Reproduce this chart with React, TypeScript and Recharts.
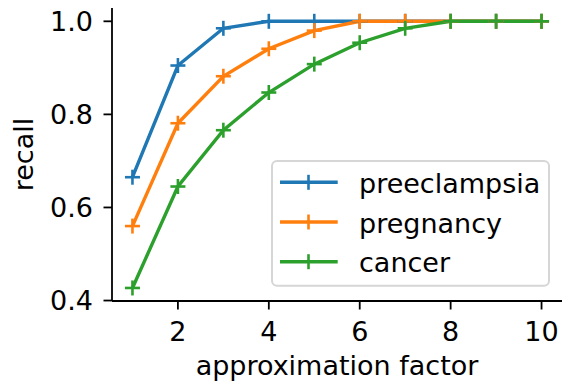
import { Legend, Line, LineChart, XAxis, YAxis } from 'recharts'

const FACTORS = [1, 2, 3, 4, 5, 6, 7, 8, 9, 10]
const PREECLAMPSIA = [0.665, 0.905, 0.985, 1, 1, 1, 1, 1, 1, 1]
const PREGNANCY = [0.56, 0.781, 0.882, 0.941, 0.98, 1, 1, 1, 1, 1]
const CANCER = [0.427, 0.645, 0.766, 0.847, 0.908, 0.954, 0.985, 1, 1, 1]
const X_TICKS = [2, 4, 6, 8, 10]
const Y_TICKS = [0.4, 0.6, 0.8, 1.0]

const SERIES = [
  { key: 'preeclampsia', color: '#1f77b4' },
  { key: 'pregnancy', color: '#ff7f0e' },
  { key: 'cancer', color: '#2ca02c' },
] as const

const FONT = '"DejaVu Sans", sans-serif'
const FS = 27

const rows = FACTORS.map((x, i) => ({
  x,
  preeclampsia: PREECLAMPSIA[i],
  pregnancy: PREGNANCY[i],
  cancer: CANCER[i],
}))

function PlusDot(props: any) {
  const { cx, cy, stroke, index } = props
  if (cx == null || cy == null) return null
  const r = 7.5
  return (
    <g key={index}>
      <line x1={cx - r} x2={cx + r} y1={cy} y2={cy} stroke={stroke} strokeWidth={2.6} />
      <line x1={cx} x2={cx} y1={cy - r} y2={cy + r} stroke={stroke} strokeWidth={2.6} />
    </g>
  )
}

function LegendBox() {
  return (
    <svg width={280} height={128} style={{ display: 'block' }}>
      <rect
        x={1}
        y={1}
        width={277}
        height={124.7}
        rx={5}
        fill="rgba(255,255,255,0.8)"
        stroke="#d6d6d6"
        strokeWidth={2}
      />
      {SERIES.map((s, i) => {
        const y = 22.3 + i * 39.7
        return (
          <g key={s.key}>
            <line x1={9} x2={66.7} y1={y} y2={y} stroke={s.color} strokeWidth={3.4} />
            <line x1={37.5} x2={37.5} y1={y - 7.5} y2={y + 7.5} stroke={s.color} strokeWidth={2.6} />
            <text x={88} y={y + 10.5} fontSize={FS} fontFamily={FONT} fill="#000">
              {s.key}
            </text>
          </g>
        )
      })}
    </svg>
  )
}

export default function App() {
  return (
    <div style={{ position: 'absolute', left: 0, top: 0, background: '#fff' }}>
      <LineChart width={568} height={387} data={rows} margin={{ top: 8, right: 6, bottom: 0, left: 0 }}>
        <XAxis
          dataKey="x"
          type="number"
          domain={[0.55, 10.45]}
          ticks={X_TICKS}
          allowDataOverflow
          height={86}
          axisLine={{ stroke: '#000', strokeWidth: 1.8 }}
          tickLine={{ stroke: '#000', strokeWidth: 1.8 }}
          tickSize={8.5}
          tickMargin={12}
          tick={{ fontSize: FS, fontFamily: FONT, fill: '#000' }}
          label={(p: any) => {
            const vb = p.viewBox
            return (
              <text
                x={vb.x + vb.width / 2}
                y={374.5}
                textAnchor="middle"
                fontSize={FS}
                fontFamily={FONT}
                fill="#000"
              >
                approximation factor
              </text>
            )
          }}
        />
        <YAxis
          type="number"
          domain={[0.399, 1.0286]}
          ticks={Y_TICKS}
          allowDataOverflow
          width={112}
          axisLine={{ stroke: '#000', strokeWidth: 1.8 }}
          tickLine={{ stroke: '#000', strokeWidth: 1.8 }}
          tickSize={8.5}
          tickMargin={10.5}
          tickFormatter={(v: number) => v.toFixed(1)}
          tick={{ fontSize: FS, fontFamily: FONT, fill: '#000' }}
          label={(p: any) => {
            const vb = p.viewBox
            const cy = vb.y + vb.height / 2
            return (
              <text
                x={33}
                y={cy}
                transform={`rotate(-90 33 ${cy})`}
                textAnchor="middle"
                fontSize={FS}
                fontFamily={FONT}
                fill="#000"
              >
                recall
              </text>
            )
          }}
        />
        {SERIES.map((s) => (
          <Line
            key={s.key}
            type="linear"
            dataKey={s.key}
            stroke={s.color}
            strokeWidth={3.4}
            dot={<PlusDot />}
            activeDot={false}
            isAnimationActive={false}
          />
        ))}
        <Legend
          layout="horizontal"
          verticalAlign="middle"
          align="center"
          content={() => <LegendBox />}
          wrapperStyle={{ left: 271, top: 160, width: 280, height: 128 }}
        />
      </LineChart>
    </div>
  )
}
